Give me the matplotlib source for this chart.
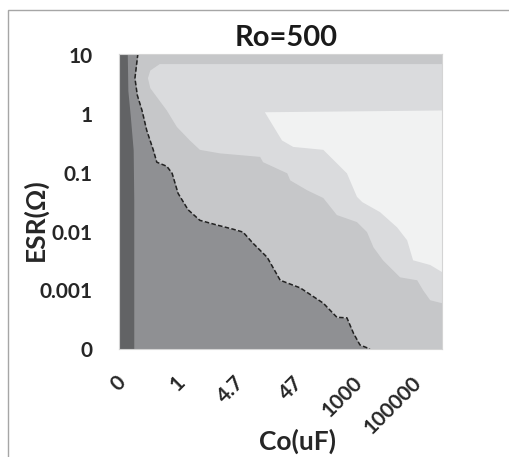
import numpy as np
import matplotlib.pyplot as plt
from matplotlib.patches import Rectangle
from matplotlib.transforms import ScaledTranslation

plt.rcParams['font.family'] = ['Lato', 'DejaVu Sans']

co_labels = ['0', '1', '4.7', '47', '1000', '100000']
esr_labels = ['0', '0.001', '0.01', '0.1', '1', '10']

# contour band edges, in category index units (Co index, ESR index)
strip_co = [0.14, 0.15, 0.19, 0.24, 0.25, 0.25]
strip_esr = [5.03, 4.40, 3.98, 3.39, 2.54, 0.0]

stable_co = [0.32, 0.27, 0.31, 0.39, 0.47, 0.58, 0.64, 0.81, 0.90, 1.00, 1.17, 1.37,
             1.66, 1.93, 2.10, 2.27, 2.51, 2.73, 3.07, 3.46, 3.69, 3.86, 3.97, 4.08, 4.25]
stable_esr = [5.03, 4.61, 4.32, 4.06, 3.72, 3.39, 3.18, 3.11, 2.99, 2.65, 2.37, 2.19,
              2.11, 2.04, 1.99, 1.80, 1.56, 1.17, 1.04, 0.78, 0.54, 0.53, 0.27, 0.07, 0.0]

light_co = [0.69, 0.53, 0.49, 0.53, 0.64, 0.81, 0.98, 1.20, 1.37, 1.71, 2.39, 2.44, 2.85,
            2.90, 3.19, 3.46, 3.69, 4.03, 4.20, 4.31, 4.47, 4.59, 4.76, 5.05, 5.15, 5.27, 5.47]
light_esr = [4.85, 4.74, 4.61, 4.44, 4.29, 4.06, 3.78, 3.55, 3.39, 3.33, 3.27, 3.18, 2.99,
             2.87, 2.70, 2.57, 2.28, 2.16, 1.99, 1.73, 1.51, 1.39, 1.22, 1.17, 1.00, 0.83, 0.78]

top_co = [2.47, 2.76, 2.95, 3.46, 3.86, 4.03, 4.12, 4.42, 4.71, 4.88, 4.98, 5.27, 5.47]
top_esr = [4.03, 3.55, 3.44, 3.39, 2.99, 2.59, 2.50, 2.33, 2.07, 1.85, 1.51, 1.43, 1.31]

xmax, ymax = 5.47, 5.03
c_darkest = '#626365'
c_dark = '#8f9093'
c_mid = '#c6c7c9'
c_light = '#dadbdd'
c_lightest = '#f1f2f2'
txt = '#262626'

fig = plt.figure(figsize=(5.10, 4.57), dpi=100)
fig.patches.append(Rectangle((8 / 510, -0.5), 2, 1.5 - 10 / 457, transform=fig.transFigure,
                             fill=False, ec='#a6a6a6', lw=1.0))
ax = fig.add_axes([119 / 510, 1 - 349 / 457, 323 / 510, 295.5 / 457])
ax.set_facecolor(c_mid)

ax.fill(np.r_[light_co, xmax, xmax], np.r_[light_esr, 4.87, 4.85], color=c_light, lw=0)
ax.fill(np.r_[top_co, xmax, xmax], np.r_[top_esr, 4.08, 4.06], color=c_lightest, lw=0)
ax.fill_betweenx(stable_esr, 0, stable_co, color=c_dark, lw=0)
ax.fill_betweenx(strip_esr, 0, strip_co, color=c_darkest, lw=0)
ax.plot(stable_co, stable_esr, color='#222222', lw=1.1, ls=(0, (3, 1.5)))

ax.set_xlim(0, xmax)
ax.set_ylim(0, ymax)
ax.set_xticks(range(len(co_labels)))
ax.set_xticklabels(co_labels, rotation=45, ha='right', va='top', rotation_mode='anchor')
ax.set_yticks(range(len(esr_labels)))
ax.set_yticklabels(esr_labels)
ax.tick_params(length=0, labelsize=15, labelcolor=txt)
ax.tick_params(axis='y', pad=19)
ax.tick_params(axis='x', pad=17)
shift = ScaledTranslation(-3 / 100, 0, fig.dpi_scale_trans)
for lab in ax.get_xticklabels():
    lab.set_transform(lab.get_transform() + shift)
for lab in ax.get_xticklabels() + ax.get_yticklabels():
    lab.set_fontweight('bold')
for sp in ax.spines.values():
    sp.set_color('#d4d4d4')
    sp.set_linewidth(0.8)

fig.text(286 / 510, 1 - 38 / 457, 'Ro=500', ha='center', va='center', fontsize=21,
         fontweight='bold', color='#1a1a1a')
fig.text(298 / 510, 1 - 441 / 457, 'Co(uF)', ha='center', va='center', fontsize=19,
         fontweight='bold', color=txt)
fig.text(35 / 510, 1 - 220 / 457, 'ESR(Ω)', ha='center', va='center', fontsize=19,
         fontweight='bold', color=txt, rotation=90)

fig.savefig('out.png', dpi=100)
